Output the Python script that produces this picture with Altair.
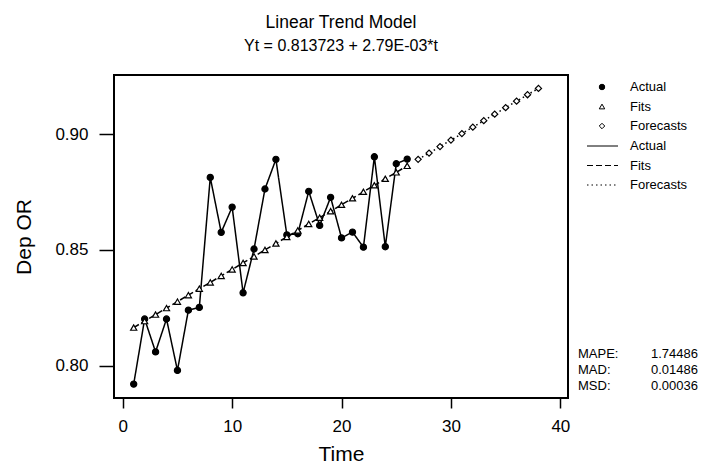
import altair as alt
import pandas as pd

# ---- data ----
t_actual = list(range(1, 27))
actual = [0.7921, 0.8202, 0.8060, 0.8202, 0.7980, 0.8240, 0.8252, 0.8813, 0.8576,
          0.8685, 0.8315, 0.8504, 0.8763, 0.8891, 0.8565, 0.8570, 0.8753, 0.8606,
          0.8727, 0.8552, 0.8577, 0.8512, 0.8902, 0.8514, 0.8872, 0.8892]
fits = [0.8165, 0.8193, 0.8221, 0.8249, 0.8277, 0.8305, 0.8333, 0.8360, 0.8388,
        0.8416, 0.8444, 0.8472, 0.8500, 0.8528, 0.8556, 0.8584, 0.8612, 0.8639,
        0.8667, 0.8695, 0.8723, 0.8751, 0.8779, 0.8807, 0.8835, 0.8863]
t_forecast = list(range(27, 39))
forecasts = [0.8891, 0.8918, 0.8946, 0.8974, 0.9002, 0.9030, 0.9058, 0.9086,
             0.9114, 0.9142, 0.9170, 0.9197]
series_names = ["Actual", "Fits", "Forecasts"]
title_text = "Linear Trend Model"
subtitle_text = "Yt = 0.813723 + 2.79E-03*t"
x_title = "Time"
y_title = "Dep OR"
x_ticks = [0, 10, 20, 30, 40]
y_ticks = [0.80, 0.85, 0.90]
stat_names = ["MAPE:", "MAD:", "MSD:"]
stat_values = ["1.74486", "0.01486", "0.00036"]

rows = []
for t, v in zip(t_actual, actual):
    rows.append({"t": t, "value": v, "series": "Actual"})
for t, v in zip(t_actual, fits):
    rows.append({"t": t, "value": v, "series": "Fits"})
for t, v in zip(t_forecast, forecasts):
    rows.append({"t": t, "value": v, "series": "Forecasts"})
df = pd.DataFrame(rows)
legend_df = pd.DataFrame({"series": series_names})

FONT = "Liberation Sans"

x_enc = alt.X(
    "t:Q",
    scale=alt.Scale(domain=[-0.8, 40.7], nice=False, zero=False),
    axis=alt.Axis(title=x_title, values=x_ticks, format="d"),
)
y_enc = alt.Y(
    "value:Q",
    scale=alt.Scale(domain=[0.7861, 0.9255], nice=False, zero=False),
    axis=alt.Axis(title=y_title, values=y_ticks, format=".2f"),
)

shape_scale = alt.Scale(domain=series_names, range=["circle", "triangle-up", "diamond"])
fill_scale = alt.Scale(domain=series_names, range=["black", "white", "white"])
dash_scale = alt.Scale(domain=series_names, range=[[1, 0], [6, 3], [1.5, 3]])

lines = (
    alt.Chart(df)
    .mark_line(color="black", strokeWidth=1.5)
    .encode(
        x=x_enc,
        y=y_enc,
        order="t:Q",
        strokeDash=alt.StrokeDash("series:N", scale=dash_scale, legend=None),
    )
)
points = (
    alt.Chart(df)
    .mark_point(filled=False, color="black", strokeWidth=1.2, opacity=1, size=38)
    .encode(
        x=x_enc,
        y=y_enc,
        shape=alt.Shape("series:N", scale=shape_scale, legend=None),
        fill=alt.Fill("series:N", scale=fill_scale, legend=None),
    )
)
main = alt.layer(lines, points)

# ---- legend (right of the plot) drawn from the series names ----
sym_y = alt.Y("series:N", axis=None,
              scale=alt.Scale(type="point", domain=series_names, range=[12, 51], padding=0))
dash_y = alt.Y("series:N", axis=None,
               scale=alt.Scale(type="point", domain=series_names, range=[71, 110], padding=0))

leg_sym = alt.Chart(legend_df).mark_point(
    filled=False, color="black", strokeWidth=1, opacity=1, size=30
).encode(
    x=alt.value(488), y=sym_y,
    shape=alt.Shape("series:N", scale=shape_scale, legend=None),
    fill=alt.Fill("series:N", scale=fill_scale, legend=None),
)
leg_sym_txt = alt.Chart(legend_df).mark_text(
    align="left", baseline="middle", font=FONT, fontSize=13, color="black"
).encode(x=alt.value(516), y=sym_y, text="series:N")
leg_dash = alt.Chart(legend_df).mark_rule(color="black", strokeWidth=1).encode(
    x=alt.value(473), x2=alt.value(504), y=dash_y,
    strokeDash=alt.StrokeDash("series:N", scale=dash_scale, legend=None),
)
leg_dash_txt = alt.Chart(legend_df).mark_text(
    align="left", baseline="middle", font=FONT, fontSize=13, color="black"
).encode(x=alt.value(516), y=dash_y, text="series:N")

one = pd.DataFrame({"k": [0]})
stat_lbl = alt.Chart(one).mark_text(
    align="left", baseline="alphabetic", font=FONT, fontSize=13, color="black",
    lineBreak="\n", lineHeight=16,
).encode(x=alt.value(464), y=alt.value(282.5), text=alt.value("\n".join(stat_names)))
stat_val = alt.Chart(one).mark_text(
    align="right", baseline="alphabetic", font=FONT, fontSize=13, color="black",
    lineBreak="\n", lineHeight=16,
).encode(x=alt.value(584), y=alt.value(282.5), text=alt.value("\n".join(stat_values)))

chart = (
    alt.layer(main, leg_sym, leg_sym_txt, leg_dash, leg_dash_txt, stat_lbl, stat_val)
    .resolve_scale(y="independent")
    .properties(
        width=454,
        height=323,
        autosize=alt.AutoSizeParams(type="none"),
        padding={"left": 106, "top": 67, "right": 132, "bottom": 69},
        title=alt.TitleParams(
            text=title_text, subtitle=subtitle_text, font=FONT, subtitleFont=FONT,
            fontSize=17.5, subtitleFontSize=16, fontWeight="normal",
            color="black", subtitleColor="black", anchor="middle", frame="group",
            offset=21, subtitlePadding=7,
        ),
    )
    .configure_view(stroke="black", strokeWidth=2)
    .configure_axis(
        grid=False, domain=False, tickColor="black", tickWidth=1.5,
        labelFont=FONT, labelFontSize=17, labelColor="black",
        titleFont=FONT, titleFontWeight="normal", titleColor="black",
    )
    .configure_axisX(tickSize=10, labelPadding=10, titleFontSize=21, titlePadding=9)
    .configure_axisY(tickSize=15, labelPadding=11, titleFontSize=21, titlePadding=20)
)

chart.save("out.html", embed_options={"renderer": "svg", "actions": False})
